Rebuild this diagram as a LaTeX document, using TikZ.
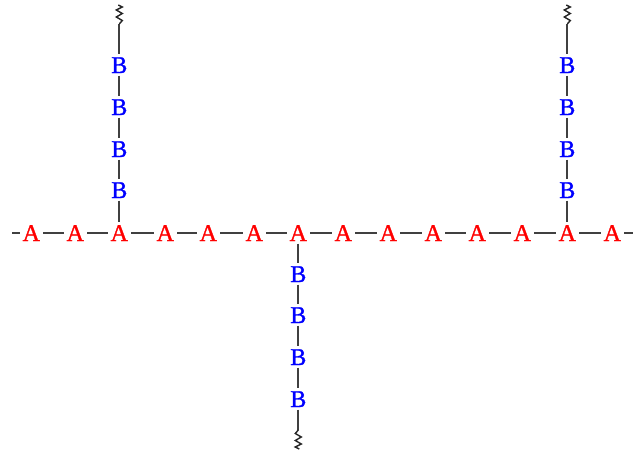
\documentclass[tikz,border=0pt]{standalone}
\usepackage{fontspec}
\setmainfont{Liberation Serif}
\newfontfamily\atomfont[FakeBold=1.2]{Liberation Serif}
\begin{document}
\begin{tikzpicture}[x=1pt,y=-1pt,
  bond/.style={draw=black!75,line width=1.7pt},
  squig/.style={draw=black!85,line width=1.4pt},
  mono/.style={font=\fontsize{24}{24}\atomfont,inner sep=0pt,text height=16pt,text depth=0pt,minimum width=23pt,minimum height=21pt,anchor=center,xshift=0.3pt,yshift=1pt},
  atomA/.style={mono,text=red},
  atomB/.style={mono,text=blue}]
\useasboundingbox (0,0) rectangle (633,456);
\foreach \n/\x in {1/31,2/75,3/119,4/165,5/208,6/254,7/298,8/343,9/388,10/433,11/477,12/522,13/567,14/612}
  \node[atomA] (a\n) at (\x,234) {A};
\foreach \n/\y in {1/66,2/108,3/150,4/191} {
  \node[atomB] (l\n) at (119,\y) {B};
  \node[atomB] (r\n) at (567,\y) {B};
}
\foreach \n/\y in {1/275,2/316,3/358,4/400}
  \node[atomB] (m\n) at (298,\y) {B};
\coordinate (endw) at (12,233);
\coordinate (ende) at (633,233);
\coordinate (endl) at (119.3,24);
\coordinate (endr) at (567.3,24);
\coordinate (endm) at (298.3,430);
\draw[bond] (endw) -- (a1);
\foreach \i/\j in {1/2,2/3,3/4,4/5,5/6,6/7,7/8,8/9,9/10,10/11,11/12,12/13,13/14}
  \draw[bond] (a\i) -- (a\j);
\draw[bond] (a14) -- (ende);
\draw[bond] (endl) -- (l1);
\draw[bond] (endr) -- (r1);
\foreach \c in {l,r} {
  \foreach \i/\j in {1/2,2/3,3/4}
    \draw[bond] (\c\i) -- (\c\j);
}
\draw[bond] (l4) -- (a3);
\draw[bond] (r4) -- (a13);
\draw[bond] (a7) -- (m1);
\foreach \i/\j in {1/2,2/3,3/4}
  \draw[bond] (m\i) -- (m\j);
\draw[bond] (m4) -- (endm);
\foreach \c in {endl,endr}
  \draw[squig] (\c) -- ++(3,-3.5) -- ++(-6,-3.5) -- ++(6,-3.5) -- ++(-6,-3.5) -- ++(6,-3) -- ++(-4,-2);
\draw[squig] (endm) -- ++(-3,3.5) -- ++(6,3.5) -- ++(-6,3.5) -- ++(6,3.5) -- ++(-6,3) -- ++(4,2);
\end{tikzpicture}
\end{document}
